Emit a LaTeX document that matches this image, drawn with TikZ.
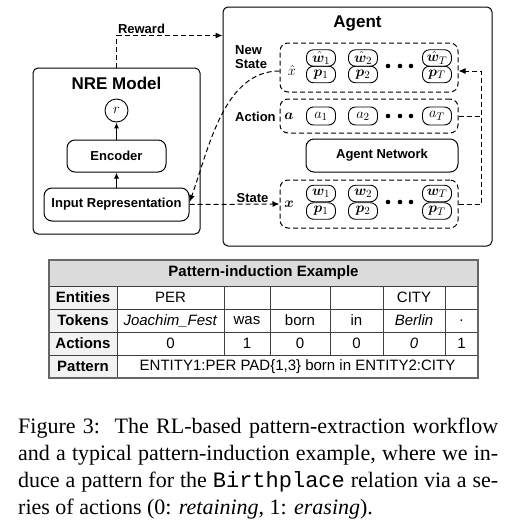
\documentclass[tikz,border=0pt]{standalone}
\usepackage{amsmath,bm}
\usepackage{fontspec}
\setmainfont{Liberation Sans}
\setmonofont{Liberation Mono}
\newfontfamily\capfont{Liberation Serif}
\usetikzlibrary{positioning, arrows.meta}
\tikzset{
    outerbox/.style={
        draw,
        line width=1pt,
        rounded corners=5pt
    },
    innerbox/.style={
        draw,
        line width=1pt,
        rounded corners=8pt,
        inner sep=0pt,
        font=\bfseries\fontsize{13}{15}\selectfont
    },
    groupbox/.style={
        draw,
        line width=1pt,
        dash pattern=on 5pt off 3pt,
        rounded corners=8pt,
        minimum width=178pt,
        inner sep=0pt
    },
    tokpill/.style={
        draw,
        line width=0.9pt,
        rounded corners=7pt,
        minimum width=29pt,
        minimum height=16.5pt,
        inner sep=0pt,
        font=\fontsize{15}{16}\selectfont
    },
    dasharrow/.style={
        line width=1pt,
        dash pattern=on 5pt off 3pt,
        -{Latex[length=7pt,width=6pt]}
    },
    dashline/.style={
        line width=1pt,
        dash pattern=on 5pt off 3pt
    },
    solidarrow/.style={
        line width=1pt,
        -{Latex[length=6pt,width=5pt]}
    },
    sidelabel/.style={
        inner sep=1pt,
        font=\bfseries\fontsize{13}{14}\selectfont
    },
    titlelabel/.style={
        font=\bfseries\fontsize{17}{19}\selectfont
    },
    mathlabel/.style={
        inner sep=0pt,
        font=\fontsize{15}{16}\selectfont
    },
    tabtext/.style={
        font=\fontsize{15}{17}\selectfont
    },
    tabhead/.style={
        font=\bfseries\fontsize{15}{17}\selectfont
    },
    tabline/.style={
        draw=black!75,
        line width=0.8pt
    }
}

\begin{document}
\begin{tikzpicture}[x=1pt, y=-1pt]

\path[use as bounding box, fill=white] (0,0) rectangle (532,528);

% ---------------------------------------------------------
% NRE model
% ---------------------------------------------------------

\node[outerbox, minimum width=167pt, minimum height=166pt] (nre) at (116.5,151) {};
\node[titlelabel] (nretitle) at (116.5,83) {NRE Model};
\node[draw, circle, line width=0.9pt, minimum size=23pt, inner sep=0pt,
      font=\fontsize{15}{16}\selectfont] (rnode) at (116.5,110.5) {$r$};
\node[innerbox, minimum width=99pt, minimum height=32pt] (encoder) at (116.5,156) {Encoder};
\node[innerbox, minimum width=145pt, minimum height=33pt] (inputrep) at (116.5,204.5) {Input Representation};

\draw[solidarrow] (inputrep) -- (encoder);
\draw[solidarrow] (encoder) -- (rnode);

% ---------------------------------------------------------
% Agent
% ---------------------------------------------------------

\node[outerbox, minimum width=269pt, minimum height=239pt] (agent) at (357.5,126.5) {};
\node[titlelabel] (agenttitle) at (357.5,23) {Agent};

\node[groupbox, minimum height=49pt] (newstate) at (369,67.5) {};
\node[groupbox, minimum height=34pt] (action) at (369,116) {};
\node[innerbox, minimum width=152pt, minimum height=33pt] (agentnet) at (382,155.5) {Agent Network};
\node[groupbox, minimum height=48pt] (state) at (369,204) {};

% token pills
\foreach \px/\i in {321/1, 363/2, 437/T} {
    \node[tokpill] (nw\i) at (\px,58) {$\hat{\bm{w}}_{\i}$};
    \node[tokpill] (np\i) at (\px,74.5) {$\bm{p}_{\i}$};
    \node[tokpill, minimum height=18pt] (a\i) at (\px,116) {$a_{\i}$};
    \node[tokpill] (sw\i) at (\px,193.5) {$\bm{w}_{\i}$};
    \node[tokpill] (sp\i) at (\px,211) {$\bm{p}_{\i}$};
}
\foreach \dx in {388,400,411}
    \foreach \dy in {66,116,202}
        \fill (\dx,\dy) circle (2.3);

% row labels
\node[sidelabel, align=left, anchor=west] (newlbl) at (234,57) {New\\State};
\node[sidelabel, anchor=west] (actlbl) at (234,117) {Action};
\node[mathlabel] (xhat) at (292,70) {$\hat{x}$};
\node[mathlabel] (avec) at (289,116) {$\bm{a}$};
\node[mathlabel] (xvec) at (289,204) {$\bm{x}$};

% ---------------------------------------------------------
% Arrows
% ---------------------------------------------------------

\coordinate (loopx) at (481,204);

\draw[dasharrow] (nre.north) |- node[pos=0.5, above right, sidelabel] {Reward} ([yshift=-29pt]agent.north west);
\draw[dasharrow] (inputrep.east) -- node[pos=0.7, above, sidelabel] {State} (state.west);
\draw[dasharrow] ([yshift=-3.5pt]newstate.west) to[out=180, in=70, looseness=0.9] ([yshift=2.5pt]inputrep.east);
\draw[dasharrow] (state.east) -- (loopx) |- ([yshift=-3.5pt]newstate.east);
\draw[dashline] (action.east) -- (action.east -| loopx);

% ---------------------------------------------------------
% Pattern-induction table
% ---------------------------------------------------------

\fill[gray!28] (49,260) rectangle (478,286);
\fill[gray!10] (49,286) rectangle (117,378);
\foreach \ry in {286,309,332,355}
    \draw[tabline] (49,\ry) -- (478,\ry);
\draw[tabline] (117,286) -- (117,378);
\foreach \cx in {224,270,330,383,445}
    \draw[tabline] (\cx,286) -- (\cx,355);
\draw[draw=black!60, line width=1.3pt] (49,260) rectangle (478,378);

\node[tabhead] (tabtitle) at (263.5,273) {Pattern-induction Example};
\foreach \ry/\lbl in {297.5/Entities, 320.5/Tokens, 343.5/Actions, 366.5/Pattern}
    \node[tabhead] at (83,\ry) {\lbl};

\node[tabtext] (entper) at (170.5,297.5) {PER};
\node[tabtext] (entcity) at (414,297.5) {CITY};
\foreach \cx/\tok in {170.5/{\textit{Joachim\_Fest}}, 247/was, 300/born, 356.5/in, 414/{\textit{Berlin}}, 461.5/.}
    \node[tabtext] at (\cx,320.5) {\tok};
\foreach \cx/\act in {170.5/0, 247/1, 300/0, 356.5/0, 414/{\textit{0}}, 461.5/1}
    \node[tabtext] at (\cx,343.5) {\act};
\node[tabtext] (pattern) at (297.5,366.5) {ENTITY1:PER PAD\{1,3\} born in ENTITY2:CITY};

% ---------------------------------------------------------
% Caption
% ---------------------------------------------------------

\node[anchor=north west, inner sep=0pt, text width=480pt, align=justify,
      font=\capfont\fontsize{22}{27}\selectfont] (caption) at (18,418)
{Figure 3:\ \ The RL-based pattern-extraction workflow\linebreak and a typical pattern-induction example, where we in-\linebreak duce a pattern for the \texttt{Birthplace} relation via a se-\linebreak ries of actions (0: \textit{retaining}, 1: \textit{erasing}).};

\end{tikzpicture}
\end{document}
